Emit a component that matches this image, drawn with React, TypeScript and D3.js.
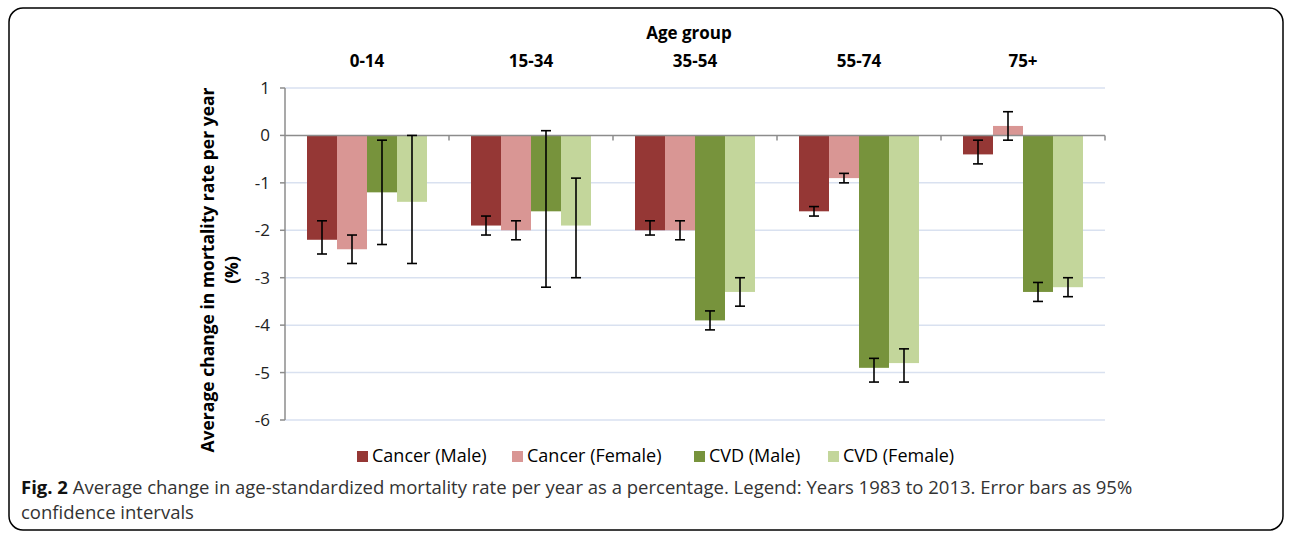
import React from "react";
import * as d3 from "d3";

const ageGroups = ["0-14", "15-34", "35-54", "55-74", "75+"];
const seriesNames = ["Cancer (Male)", "Cancer (Female)", "CVD (Male)", "CVD (Female)"];
const seriesColors = ["#953735", "#D99694", "#77933C", "#C3D69B"];

const cancerMale = [-2.2, -1.9, -2.0, -1.6, -0.4];
const cancerMaleLo = [-2.5, -2.1, -2.1, -1.7, -0.6];
const cancerMaleHi = [-1.8, -1.7, -1.8, -1.5, -0.1];

const cancerFemale = [-2.4, -2.0, -2.0, -0.9, 0.2];
const cancerFemaleLo = [-2.7, -2.2, -2.2, -1.0, -0.1];
const cancerFemaleHi = [-2.1, -1.8, -1.8, -0.8, 0.5];

const cvdMale = [-1.2, -1.6, -3.9, -4.9, -3.3];
const cvdMaleLo = [-2.3, -3.2, -4.1, -5.2, -3.5];
const cvdMaleHi = [-0.1, 0.1, -3.7, -4.7, -3.1];

const cvdFemale = [-1.4, -1.9, -3.3, -4.8, -3.2];
const cvdFemaleLo = [-2.7, -3.0, -3.6, -5.2, -3.4];
const cvdFemaleHi = [0.0, -0.9, -3.0, -4.5, -3.0];

const yTicks = [1, 0, -1, -2, -3, -4, -5, -6];

const values = [cancerMale, cancerFemale, cvdMale, cvdFemale];
const lows = [cancerMaleLo, cancerFemaleLo, cvdMaleLo, cvdFemaleLo];
const highs = [cancerMaleHi, cancerFemaleHi, cvdMaleHi, cvdFemaleHi];

const FONT = "'Open Sans', 'DejaVu Sans', sans-serif";

export default function App() {
  const W = 1292;
  const H = 540;
  const plotLeft = 285;
  const plotRight = 1105;
  const y = d3.scaleLinear().domain([-6, 1]).range([420, 88]);
  const x0 = d3.scaleBand<string>().domain(ageGroups).range([plotLeft, plotRight]).paddingInner(0).paddingOuter(0);
  const barW = 30;
  const groupInner = barW * seriesNames.length;
  const x1 = d3.scaleBand<string>().domain(seriesNames).range([0, groupInner]);
  const groupOffset = (x0.bandwidth() - groupInner) / 2;
  const y0 = y(0);
  const boundaries = ageGroups.map((g) => (x0(g) as number) + x0.bandwidth());

  const legendItems = [
    { sq: 357, tx: 372 },
    { sq: 512, tx: 527 },
    { sq: 694, tx: 709 },
    { sq: 828, tx: 843 },
  ];

  return (
    <svg
      width={W}
      height={H}
      style={{ position: "absolute", left: 0, top: 0, background: "#fff" }}
      fontFamily={FONT}
    >
      <rect x={9} y={8} width={1274} height={522} rx={14} ry={14} fill="#fff" stroke="#000" strokeWidth={1.5} />

      {/* gridlines */}
      {yTicks.filter((t) => t !== 0).map((t) => (
        <line key={"g" + t} x1={plotLeft} x2={plotRight} y1={y(t)} y2={y(t)} stroke="#D9E1F0" strokeWidth={1.5} />
      ))}

      {/* bars */}
      {ageGroups.map((g, gi) => (
        <g key={g} transform={`translate(${(x0(g) as number) + groupOffset},0)`}>
          {seriesNames.map((s, si) => {
            const v = values[si][gi];
            const bx = x1(s) as number;
            return (
              <rect
                key={s}
                x={bx}
                width={x1.bandwidth()}
                y={Math.min(y(v), y0)}
                height={Math.abs(y(v) - y0)}
                fill={seriesColors[si]}
              />
            );
          })}
        </g>
      ))}

      {/* axes */}
      <line x1={plotLeft} x2={plotRight} y1={y0} y2={y0} stroke="#8C8C8C" strokeWidth={1.5} />
      {boundaries.map((bx, i) => (
        <line key={"xt" + i} x1={bx} x2={bx} y1={y0} y2={y0 + 5} stroke="#8C8C8C" strokeWidth={1.5} />
      ))}
      <line x1={plotLeft} x2={plotLeft} y1={y(1)} y2={y(-6)} stroke="#8C8C8C" strokeWidth={1.5} />
      {yTicks.map((t) => (
        <g key={"yt" + t}>
          <line x1={plotLeft - 5} x2={plotLeft} y1={y(t)} y2={y(t)} stroke="#8C8C8C" strokeWidth={1.5} />
          <text x={270} y={y(t)} dy="0.35em" textAnchor="end" fontSize={17} fill="#222">
            {t < 0 ? "-" + Math.abs(t) : String(t)}
          </text>
        </g>
      ))}

      {/* error bars */}
      {ageGroups.map((g, gi) => (
        <g key={"e" + g} transform={`translate(${(x0(g) as number) + groupOffset},0)`}>
          {seriesNames.map((s, si) => {
            const cx = (x1(s) as number) + x1.bandwidth() / 2;
            const lo = y(lows[si][gi]);
            const hi = y(highs[si][gi]);
            return (
              <g key={s} stroke="#000" strokeWidth={1.6}>
                <line x1={cx} x2={cx} y1={hi} y2={lo} />
                <line x1={cx - 5} x2={cx + 5} y1={hi} y2={hi} />
                <line x1={cx - 5} x2={cx + 5} y1={lo} y2={lo} />
              </g>
            );
          })}
        </g>
      ))}

      {/* top labels */}
      <text x={689} y={39} textAnchor="middle" fontWeight="bold" fontSize={17} fill="#000">
        Age group
      </text>
      {ageGroups.map((g) => (
        <text
          key={"cl" + g}
          x={(x0(g) as number) + x0.bandwidth() / 2}
          y={67}
          textAnchor="middle"
          fontWeight="bold"
          fontSize={17}
          fill="#000"
        >
          {g}
        </text>
      ))}

      {/* y-axis label */}
      <g transform="translate(208,270) rotate(-90)">
        <text x={0} y={0} dy="0.35em" textAnchor="middle" fontWeight="bold" fontSize={17.5} fill="#000">
          Average change in mortality rate per year
        </text>
      </g>
      <g transform="translate(232,270) rotate(-90)">
        <text x={0} y={0} dy="0.35em" textAnchor="middle" fontWeight="bold" fontSize={17.5} fill="#000">
          (%)
        </text>
      </g>

      {/* legend */}
      {seriesNames.map((s, si) => (
        <g key={"lg" + s}>
          <rect x={legendItems[si].sq} y={451} width={11} height={11} fill={seriesColors[si]} />
          <text x={legendItems[si].tx} y={456} dy="0.35em" fontSize={18} fill="#000">
            {s}
          </text>
        </g>
      ))}

      {/* caption */}
      <text x={21} y={494} fontSize={18.5} fill="#333">
        <tspan fontWeight="bold" fill="#111">Fig. 2</tspan>
        <tspan> Average change in age-standardized mortality rate per year as a percentage. Legend: Years 1983 to 2013. Error bars as 95%</tspan>
      </text>
      <text x={21} y={519} fontSize={18.5} fill="#333">
        confidence intervals
      </text>
    </svg>
  );
}
